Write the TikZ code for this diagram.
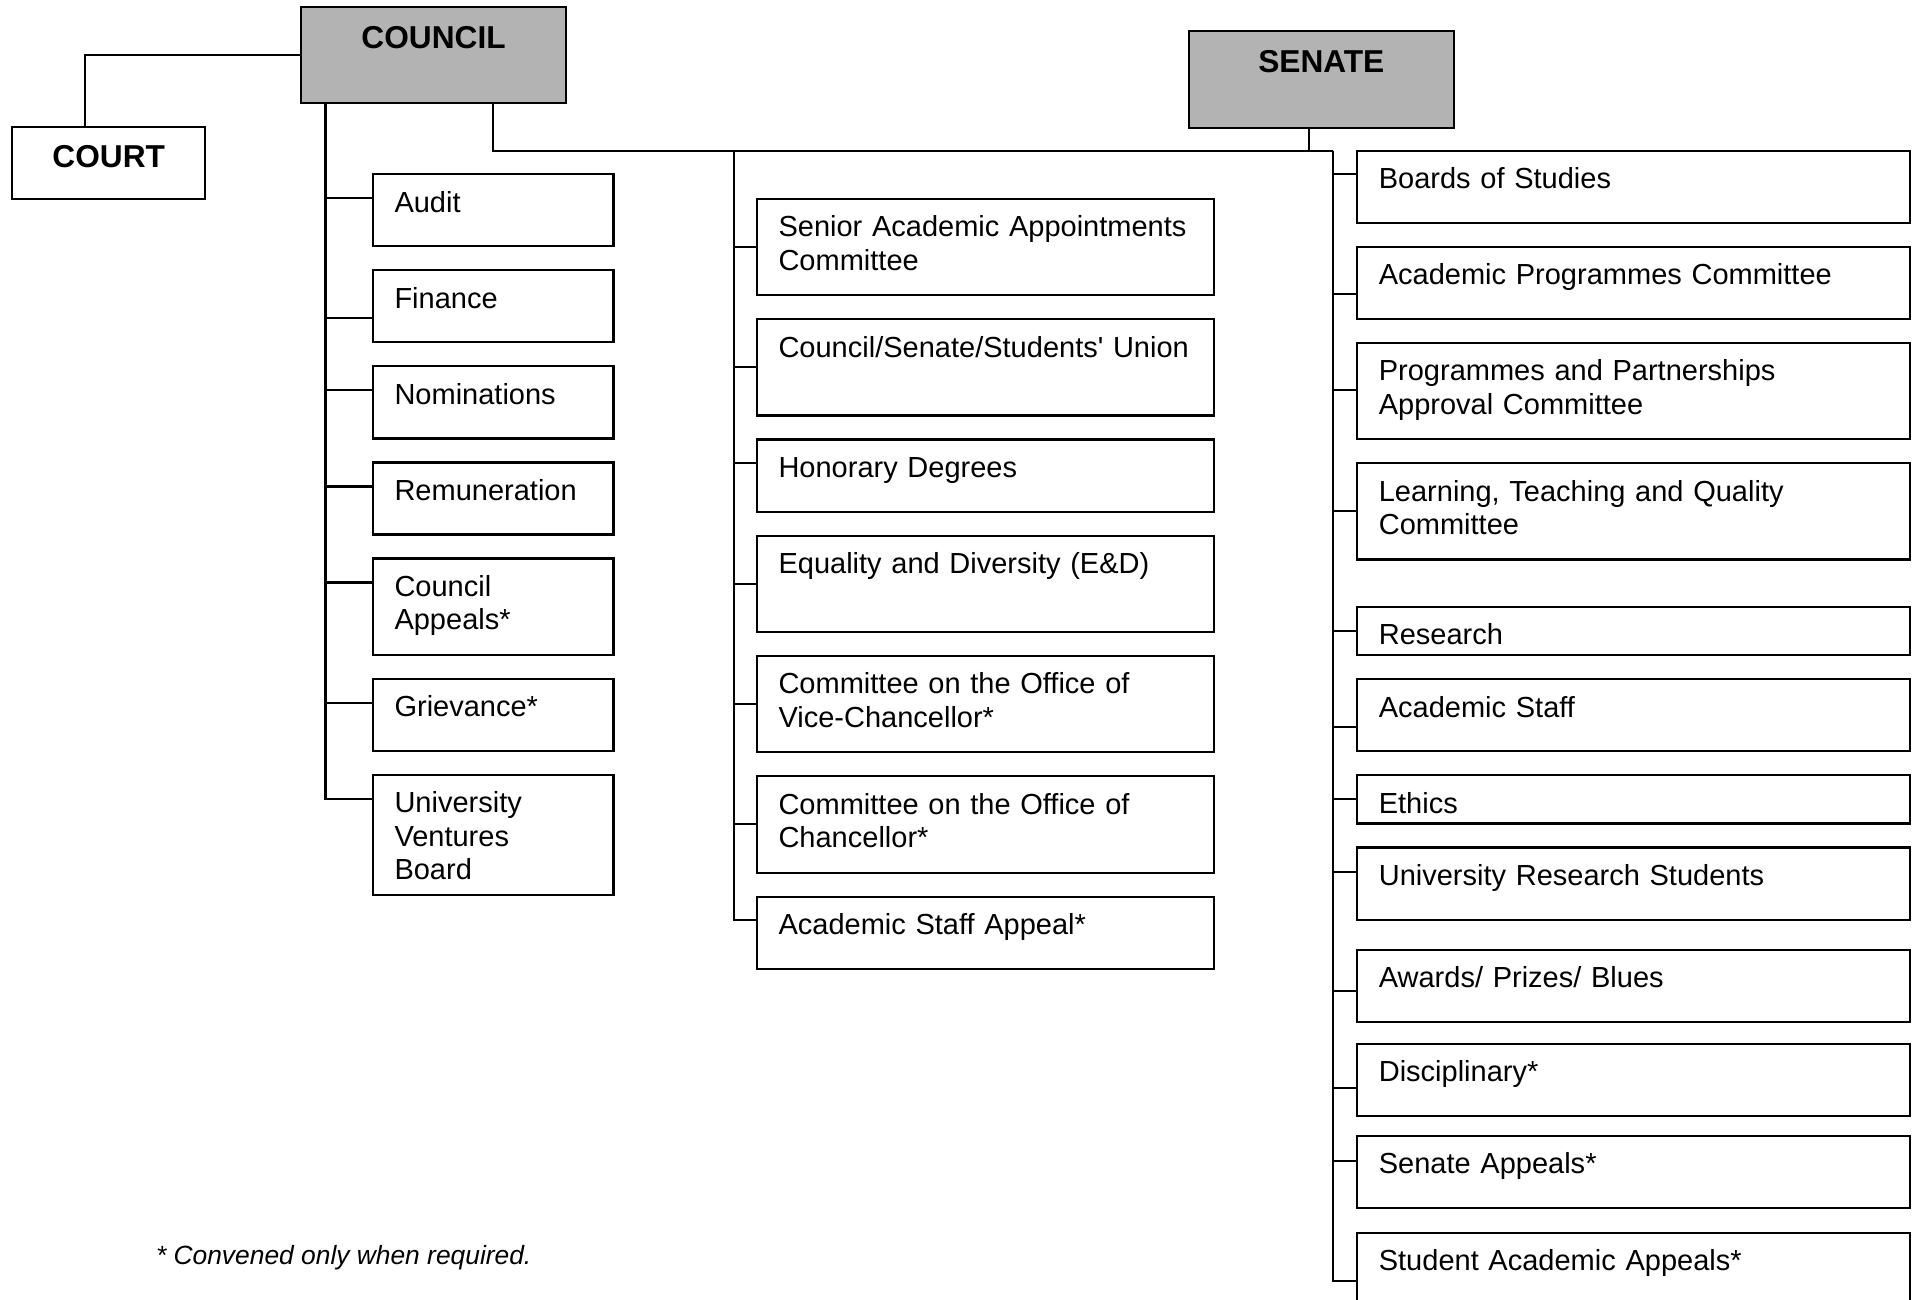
\documentclass[tikz,border=0pt]{standalone}
\usepackage{fontspec}
\setmainfont{Liberation Sans}
\usepackage{tikz}
\usetikzlibrary{positioning}
\definecolor{bodygray}{HTML}{B3B3B3}

\begin{document}
\begin{tikzpicture}[x=0.01cm, y=-0.01cm, line width=0.6pt,
    head/.style={draw, anchor=north west, align=center, inner sep=0pt, outer sep=0pt, text height=0.415cm, font=\fontsize{9}{11}\selectfont\bfseries},
    unit/.style={draw, anchor=north west, align=left, inner xsep=0.215cm, inner ysep=0pt, outer sep=0pt, text height=0.38cm, font=\fontsize{8.25}{9.5}\selectfont},
    cunit/.style={unit, text width=1.973cm},
    munit/.style={unit, text width=4.14cm},
    sunit/.style={unit, text width=5.095cm},
    one/.style={text depth=0.34cm}, two/.style={text depth=0.583cm},
    three/.style={text depth=0.817cm}, slim/.style={text depth=0.104cm},
    node distance=0.24cm]
        \clip (0,0) rectangle (1912,1300);
        % governing bodies
        \node[head, fill=bodygray, text width=2.65cm, text depth=0.545cm] (council) at (301,6.7) {COUNCIL};
        \node[head, fill=bodygray, text width=2.645cm, text depth=0.555cm] (senate) at (1189,30.7) {SENATE};
        \node[head, text width=1.93cm, text height=0.41cm, text depth=0.313cm] (court) at (12.2,126.7) {COURT};
        % council committees
        \node[cunit, one] (audit) at (373,174.3) {Audit};
        \node[cunit, one, below=of audit] (finance) {Finance};
        \node[cunit, one, below=of finance] (nominations) {Nominations};
        \node[cunit, one, below=of nominations] (remuneration) {Remuneration};
        \node[cunit, two, below=of remuneration] (cappeals) {Council\\Appeals*};
        \node[cunit, one, below=of cappeals] (grievance) {Grievance*};
        \node[cunit, three, below=of grievance] (ventures) {University\\Ventures\\Board};
        % joint committees
        \node[munit, two] (saac) at (757,198.8) {Senior Academic Appointments\\Committee};
        \node[munit, two, below=of saac] (union) {Council/Senate/Students\textquotesingle{} Union};
        \node[munit, one, below=of union] (honorary) {Honorary Degrees};
        \node[munit, two, below=of honorary] (equality) {Equality and Diversity (E\&D)};
        \node[munit, two, below=of equality] (vc) {Committee on the Office of\\Vice-Chancellor*};
        \node[munit, two, below=of vc] (chancellor) {Committee on the Office of\\Chancellor*};
        \node[munit, one, below=of chancellor] (staffappeal) {Academic Staff Appeal*};
        % senate committees
        \node[sunit, one] (boards) at (1357.3,150.7) {Boards of Studies};
        \node[sunit, one, below=of boards] (programmes) {Academic Programmes Committee};
        \node[sunit, two, below=of programmes] (partnerships) {Programmes and Partnerships\\Approval Committee};
        \node[sunit, two, below=of partnerships] (quality) {Learning, Teaching and Quality\\Committee};
        \node[sunit, slim, below=0.47cm of quality] (research) {Research};
        \node[sunit, one, below=of research] (staff) {Academic Staff};
        \node[sunit, slim, below=of staff] (ethics) {Ethics};
        \node[sunit, one, below=of ethics] (students) {University Research Students};
        \node[sunit, one, below=0.3cm of students] (awards) {Awards/ Prizes/ Blues};
        \node[sunit, one, below=0.22cm of awards] (disciplinary) {Disciplinary*};
        \node[sunit, one, below=0.2cm of disciplinary] (sappeals) {Senate Appeals*};
        \node[sunit, one, below=0.25cm of sappeals] (saappeals) {Student Academic Appeals*};
        \node[anchor=base west, inner sep=0pt, font=\fontsize{7.5}{9}\selectfont\itshape] (note) at (155,1264) {* Convened only when required.};
        % trunks
        \coordinate (ctop) at ([xshift=0.245cm]council.south west);
        \coordinate (hub) at (1333.3,151);
        \coordinate (mtop) at (733.6,151);
        \draw (council.west) -| ([xshift=-0.2385cm]court.north);
        \draw ([xshift=1.92cm]council.south west) |- (hub);
        \draw ([xshift=-0.1225cm]senate.south) |- (hub);
        % council branches
        \draw (ctop) |- ([yshift=-0.24cm]audit.north west);
        \draw (ctop) |- ([yshift=-0.48cm]finance.north west);
        \draw (ctop) |- ([yshift=-0.24cm]nominations.north west);
        \draw (ctop) |- ([yshift=-0.24cm]remuneration.north west);
        \draw (ctop) |- ([yshift=-0.24cm]cappeals.north west);
        \draw (ctop) |- ([yshift=-0.24cm]grievance.north west);
        \draw (ctop) |- ([yshift=-0.24cm]ventures.north west);
        % joint branches
        \draw (mtop) |- ([yshift=-0.48cm]saac.north west);
        \draw (mtop) |- ([yshift=-0.48cm]union.north west);
        \draw (mtop) |- ([yshift=-0.23cm]honorary.north west);
        \draw (mtop) |- ([yshift=-0.48cm]equality.north west);
        \draw (mtop) |- ([yshift=-0.48cm]vc.north west);
        \draw (mtop) |- ([yshift=-0.48cm]chancellor.north west);
        \draw (mtop) |- ([yshift=-0.23cm]staffappeal.north west);
        % senate branches
        \draw (hub) |- ([yshift=-0.236cm]boards.north west);
        \draw (hub) |- ([yshift=-0.475cm]programmes.north west);
        \draw (hub) |- ([yshift=-0.475cm]partnerships.north west);
        \draw (hub) |- ([yshift=-0.477cm]quality.north west);
        \draw (hub) |- ([yshift=-0.24cm]research.north west);
        \draw (hub) |- ([yshift=-0.48cm]staff.north west);
        \draw (hub) |- ([yshift=-0.24cm]ethics.north west);
        \draw (hub) |- ([yshift=-0.243cm]students.north west);
        \draw (hub) |- ([yshift=-0.417cm]awards.north west);
        \draw (hub) |- ([yshift=-0.446cm]disciplinary.north west);
        \draw (hub) |- ([yshift=-0.25cm]sappeals.north west);
        \draw (hub) |- ([yshift=-0.48cm]saappeals.north west);
    \end{tikzpicture}
\end{document}
